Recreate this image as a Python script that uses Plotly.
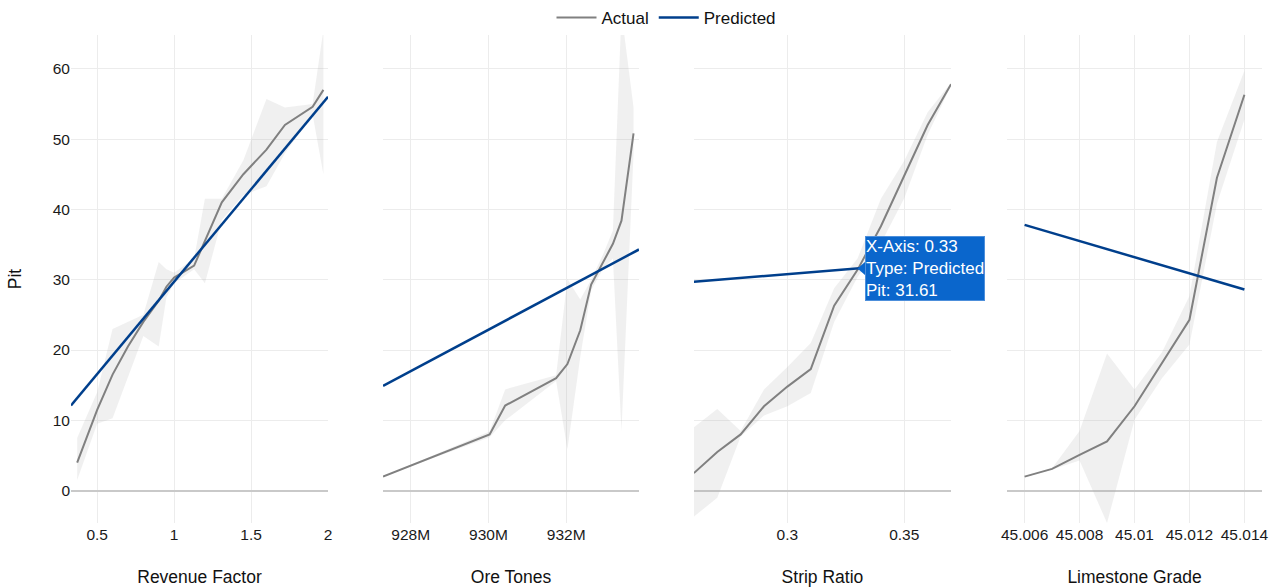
import plotly.graph_objects as go
from plotly.subplots import make_subplots

# ---- Revenue Factor ----
rev_x = [0.37, 0.5, 0.6, 0.7, 0.8, 0.9, 0.95, 1.0, 1.13, 1.2, 1.31, 1.45, 1.6, 1.72, 1.9, 1.97]
rev_actual = [4.0, 11.5, 16.5, 20.5, 24.0, 27.0, 29.0, 30.3, 32.0, 35.5, 41.0, 45.0, 48.5, 52.0, 54.6, 57.0]
rev_lower = [1.5, 9.5, 10.3, 16.0, 22.0, 20.5, 27.5, 29.5, 31.5, 29.5, 38.5, 42.0, 43.3, 48.0, 53.5, 45.0]
rev_upper = [7.5, 14.0, 23.0, 24.0, 25.0, 32.5, 31.5, 31.0, 33.0, 41.5, 41.5, 47.0, 55.7, 54.5, 55.0, 65.5]
rev_pred_x = [0.33, 2.0]
rev_pred_y = [12.1, 56.0]

# ---- Ore Tones ----
ore_x = [927.29e6, 930.03e6, 930.43e6, 931.74e6, 932.03e6, 932.36e6, 932.64e6,
         932.94e6, 933.2e6, 933.42e6, 933.73e6]
ore_actual = [2.0, 8.0, 12.1, 16.0, 18.0, 22.8, 29.3, 32.5, 35.1, 38.4, 50.8]
ore_lower = [2.0, 7.6, 10.0, 15.6, 5.9, 19.0, 28.5, 31.5, 33.0, 8.5, 48.0]
ore_upper = [2.0, 8.4, 14.4, 16.4, 30.1, 27.2, 30.0, 33.5, 37.0, 68.0, 54.5]
ore_pred_x = [927.29e6, 933.87e6]
ore_pred_y = [14.9, 34.3]
ore_tickvals = [928e6, 930e6, 932e6]
ore_ticktext = ["928M", "930M", "932M"]

# ---- Strip Ratio ----
strip_x = [0.26, 0.27, 0.28, 0.29, 0.30, 0.31, 0.32, 0.33, 0.34, 0.35, 0.36, 0.37]
strip_actual = [2.5, 5.5, 8.0, 12.0, 14.8, 17.3, 26.3, 31.4, 37.6, 44.8, 52.0, 57.8]
strip_lower = [-3.7, -1.0, 7.7, 10.7, 12.0, 13.9, 24.0, 30.4, 35.2, 41.6, 50.6, 57.6]
strip_upper = [9.0, 11.6, 8.5, 14.4, 17.6, 21.0, 28.8, 33.0, 41.5, 46.9, 53.8, 58.0]
strip_pred_x = [0.26, 0.37]
strip_pred_y = [29.7, 32.7]

# ---- Limestone Grade ----
lime_x = [45.006, 45.007, 45.008, 45.009, 45.010, 45.011, 45.012, 45.013, 45.014]
lime_actual = [2.0, 3.1, 5.1, 7.0, 12.0, 18.1, 24.3, 44.5, 56.3]
lime_lower = [2.0, 3.0, 4.3, -4.6, 10.1, 16.0, 20.8, 40.8, 52.8]
lime_upper = [2.0, 3.2, 8.5, 19.5, 14.4, 19.7, 27.7, 49.6, 59.7]
lime_pred_x = [45.006, 45.014]
lime_pred_y = [37.8, 28.6]
lime_range = [45.00536, 45.01464]

# Highlighted point on the Strip Ratio prediction
tip_x, tip_type, tip_pit = 0.33, "Predicted", 31.61

y_range = [-4.6, 64.8]
y_ticks = [0, 10, 20, 30, 40, 50, 60]

GRAY = "#808080"
BLUE = "#003f8c"
BAND = "rgba(170,170,170,0.18)"
FONT = "Arial, Liberation Sans, Helvetica, sans-serif"

panels = [
    ("Revenue Factor", rev_x, rev_actual, rev_lower, rev_upper, rev_pred_x, rev_pred_y),
    ("Ore Tones", ore_x, ore_actual, ore_lower, ore_upper, ore_pred_x, ore_pred_y),
    ("Strip Ratio", strip_x, strip_actual, strip_lower, strip_upper, strip_pred_x, strip_pred_y),
    ("Limestone Grade", lime_x, lime_actual, lime_lower, lime_upper, lime_pred_x, lime_pred_y),
]

fig = make_subplots(rows=1, cols=4, shared_yaxes=True)

for i, (title, xs, act, lo, up, px, py) in enumerate(panels, start=1):
    # confidence band as a closed polygon
    fig.add_trace(go.Scatter(
        x=list(xs) + list(xs)[::-1], y=list(up) + list(lo)[::-1],
        fill="toself", fillcolor=BAND, line=dict(width=0),
        mode="lines", hoverinfo="skip", showlegend=False), row=1, col=i)
    fig.add_trace(go.Scatter(
        x=xs, y=act, mode="lines", name="Actual", legendgroup="Actual",
        line=dict(color=GRAY, width=2), showlegend=(i == 1)), row=1, col=i)
    fig.add_trace(go.Scatter(
        x=px, y=py, mode="lines", name="Predicted", legendgroup="Predicted",
        line=dict(color=BLUE, width=2.5), showlegend=(i == 1)), row=1, col=i)

domains = [[0.0, 0.2158], [0.262, 0.4769], [0.523, 0.7389], [0.7859, 1.0]]
ranges = [
    [min(rev_pred_x), max(rev_pred_x)],
    [min(ore_pred_x), max(ore_pred_x)],
    [min(strip_x), max(strip_x)],
    lime_range,
]
tick_sets = [
    dict(tickvals=[0.5, 1, 1.5, 2], ticktext=["0.5", "1", "1.5", "2"]),
    dict(tickvals=ore_tickvals, ticktext=ore_ticktext),
    dict(tickvals=[0.3, 0.35], ticktext=["0.3", "0.35"]),
    dict(tickvals=[45.006, 45.008, 45.01, 45.012, 45.014],
         ticktext=["45.006", "45.008", "45.01", "45.012", "45.014"]),
]

for i in range(4):
    name = "xaxis" if i == 0 else f"xaxis{i + 1}"
    fig.layout[name].update(
        domain=domains[i], range=ranges[i], showgrid=True, gridcolor="#ececec",
        gridwidth=1, zeroline=False, showline=False, ticks="",
        tickfont=dict(size=15.5, color="#1a1a1a", family=FONT),
        title=dict(text=panels[i][0], standoff=30,
                   font=dict(size=17.5, color="#111111", family=FONT)),
        **tick_sets[i])
    yname = "yaxis" if i == 0 else f"yaxis{i + 1}"
    fig.layout[yname].update(
        range=y_range, tickvals=y_ticks, showgrid=True, gridcolor="#ececec",
        zeroline=True, zerolinecolor="#c9c9c9", zerolinewidth=1.5,
        showline=False, ticks="", showticklabels=(i == 0),
        tickfont=dict(size=15.5, color="#1a1a1a", family=FONT))

fig.layout.yaxis.title = dict(text="Pit", standoff=26,
                              font=dict(size=17.5, color="#111111", family=FONT))

# hover-style label for the highlighted prediction
fig.add_annotation(
    x=tip_x, y=tip_pit, xref="x3", yref="y3", showarrow=False,
    xanchor="left", yanchor="middle", xshift=7, align="left",
    text=f"X-Axis: {tip_x:.2f}<br>Type: {tip_type}<br>Pit: {tip_pit:.2f}",
    font=dict(size=17, color="white", family=FONT),
    bgcolor="#0a66cc", bordercolor="#4d8fdb", borderwidth=1, borderpad=0)
fig.add_shape(
    type="path", xref="x3", yref="y3", xsizemode="pixel", ysizemode="pixel",
    xanchor=tip_x, yanchor=tip_pit, path="M 0,0 L 8,-7 L 8,7 Z",
    fillcolor="#0a66cc", line=dict(width=0))

fig.update_layout(
    width=1277, height=587,
    margin=dict(l=71, r=15, t=35, b=64, autoexpand=False),
    paper_bgcolor="white", plot_bgcolor="white",
    font=dict(family=FONT, color="#111111"),
    showlegend=True,
    legend=dict(orientation="h", x=0.5, xanchor="center",
                y=1.0, yref="container", yanchor="top",
                font=dict(size=17, color="#111111", family=FONT),
                bgcolor="rgba(0,0,0,0)", itemwidth=40),
    hovermode=False,
)

fig.write_html("out.html")
